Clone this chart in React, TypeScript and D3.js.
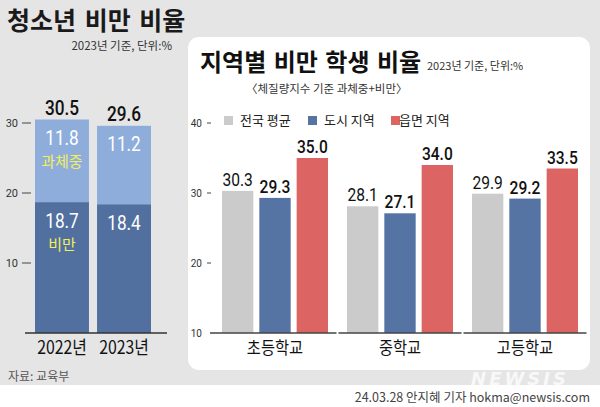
import React from "react";
import * as d3 from "d3";

const width = 600;
const height = 407;

// 왼쪽 차트: 청소년 비만 비율 (2023년 기준, 단위:%)
const years = ["2022년", "2023년"];
const obese = [18.7, 18.4];
const overweight = [11.8, 11.2];
const totals = [30.5, 29.6];
const leftTicks = [10, 20, 30];

// 오른쪽 차트: 지역별 비만 학생 비율
const schools = ["초등학교", "중학교", "고등학교"];
const regions = ["전국 평균", "도시 지역", "읍면 지역"];
const nationAvg = [30.3, 28.1, 29.9];
const cityRate = [29.3, 27.1, 29.2];
const ruralRate = [35.0, 34.0, 33.5];
const rightTicks = [10, 20, 30, 40];

const regionColors = ["#cbcbcb", "#5674a3", "#dc6462"];
const darkBlue = "#52709f";
const lightBlue = "#8eaddb";
const yellow = "#f3ef5c";

const KR = "'Noto Sans CJK KR', sans-serif";
const NUM = "'Roboto', 'Noto Sans CJK KR', sans-serif";

// narrow text (the reference uses a condensed gothic)
function Narrow({ x, y, size, weight = 400, fill = "#111", family = NUM, squeeze = 0.82, children }: any) {
  return (
    <text
      transform={`translate(${x},${y}) scale(${squeeze},1)`}
      textAnchor="middle"
      fontFamily={family}
      fontWeight={weight}
      fontSize={size}
      fill={fill}
    >
      {children}
    </text>
  );
}

export default function App() {
  // left chart scales
  const leftX = d3.scaleBand().domain(years).range([35, 151]).paddingInner(0.13);
  const leftY = d3.scaleLinear().domain([0, 30]).range([333, 123]);

  const leftRows = years.map((y, i) => ({ year: y, obese: obese[i], overweight: overweight[i] }));
  const stacked = d3.stack<any>().keys(["obese", "overweight"])(leftRows);
  const stackColors = [darkBlue, lightBlue];

  // right chart scales
  const groupX = d3.scaleBand().domain(schools).range([212.5, 587.5]);
  const barX = d3.scaleBand().domain(regions).range([9.5, 115.5]).paddingInner(0.16);
  const rightY = d3.scaleLinear().domain([10, 40]).range([333, 123]);
  const seriesValues = [nationAvg, cityRate, ruralRate];

  const legendX = [224, 308, 391];

  return (
    <svg
      width={width}
      height={height}
      style={{ position: "absolute", left: 0, top: 0, display: "block" }}
    >
      <rect x={0} y={0} width={width} height={height} fill="#ffffff" />
      <rect x={0} y={0} width={width} height={385} fill="#e5e5e5" />

      {/* 왼쪽 제목 */}
      <text x={7} y={30} fontFamily={KR} fontWeight={700} fontSize={25} fill="#1a1a1a" wordSpacing={3}>
        청소년 비만 비율
      </text>
      <text x={172} y={50} textAnchor="end" fontFamily={KR} fontSize={11.5} fill="#333">
        2023년 기준, 단위:%
      </text>

      {/* 왼쪽 눈금 */}
      {leftTicks.map((t) => (
        <g key={t} transform={`translate(0,${leftY(t)})`}>
          <text x={18} y={4} textAnchor="end" fontFamily={NUM} fontSize={11} fill="#333">
            {t}
          </text>
          <line x1={22} x2={31} stroke="#444" strokeWidth={1} />
        </g>
      ))}

      {/* 누적 막대 */}
      {stacked.map((layer, li) =>
        layer.map((d, i) => (
          <rect
            key={`${li}-${i}`}
            x={leftX(years[i])}
            y={leftY(d[1])}
            width={leftX.bandwidth()}
            height={leftY(d[0]) - leftY(d[1])}
            fill={stackColors[li]}
          />
        ))
      )}
      <line x1={25} x2={167} y1={leftY(0)} y2={leftY(0)} stroke="#333" strokeWidth={1.5} />

      {years.map((y, i) => {
        const cx = (leftX(y) as number) + leftX.bandwidth() / 2;
        const topY = leftY(totals[i]);
        const midY = leftY(obese[i]);
        return (
          <g key={y}>
            <Narrow x={cx} y={topY - 5} size={21} weight={500}>
              {totals[i].toFixed(1)}
            </Narrow>
            <Narrow x={cx} y={topY + 25} size={21} fill="#fff">
              {overweight[i].toFixed(1)}
            </Narrow>
            <Narrow x={cx} y={midY + 26} size={21} fill="#fff">
              {obese[i].toFixed(1)}
            </Narrow>
            {i === 0 && (
              <>
                <text x={cx} y={topY + 47} textAnchor="middle" fontFamily={KR} fontSize={15} fill={yellow}>
                  과체중
                </text>
                <text x={cx} y={midY + 48} textAnchor="middle" fontFamily={KR} fontSize={15} fill={yellow}>
                  비만
                </text>
              </>
            )}
            <Narrow x={cx} y={354} size={18} squeeze={0.88} family={KR}>
              {y}
            </Narrow>
          </g>
        );
      })}

      <text x={8} y={381} fontFamily={KR} fontSize={12} fill="#555">
        자료: 교육부
      </text>

      {/* 오른쪽 패널 */}
      <rect x={188} y={37} width={402} height={333} rx={11} fill="#ffffff" />
      <text x={200} y={71} fontFamily={KR} fontWeight={700} fontSize={24} fill="#111" wordSpacing={2}>
        지역별 비만 학생 비율
      </text>
      <text x={427} y={70} fontFamily={KR} fontSize={11} fill="#333">
        2023년 기준, 단위:%
      </text>
      <text x={246} y={93} fontFamily={KR} fontSize={11.5} fill="#333">
        〈체질량지수 기준 과체중+비만〉
      </text>

      {/* 범례 */}
      {regions.map((r, i) => (
        <g key={r}>
          <rect x={legendX[i]} y={116} width={9} height={9} fill={regionColors[i]} />
          <text x={legendX[i] + (i === 2 ? 8 : 16)} y={125} fontFamily={KR} fontSize={13} fill="#222">
            {r}
          </text>
        </g>
      ))}

      {/* 오른쪽 눈금 */}
      {rightTicks.map((t) => (
        <g key={t} transform={`translate(0,${rightY(t)})`}>
          <text x={202} y={4} textAnchor="end" fontFamily={NUM} fontSize={10} fill="#333">
            {t}
          </text>
          {t !== 10 && <line x1={207} x2={211} stroke="#444" strokeWidth={1} />}
        </g>
      ))}

      {/* 그룹 막대 */}
      {schools.map((s, gi) => {
        const gx = groupX(s) as number;
        return (
          <g key={s} transform={`translate(${gx},0)`}>
            {regions.map((r, ri) => {
              const v = seriesValues[ri][gi];
              const bx = barX(r) as number;
              return (
                <g key={r}>
                  <rect
                    x={bx}
                    y={rightY(v)}
                    width={barX.bandwidth()}
                    height={rightY(10) - rightY(v)}
                    fill={regionColors[ri]}
                  />
                  <Narrow
                    x={bx + barX.bandwidth() / 2}
                    y={rightY(v) - 5}
                    size={19}
                    weight={ri === 0 ? 400 : 500}
                  >
                    {v.toFixed(1)}
                  </Narrow>
                </g>
              );
            })}
            <line
              x1={gi === 0 ? -2.5 : 1}
              x2={groupX.bandwidth() - 1}
              y1={rightY(10)}
              y2={rightY(10)}
              stroke="#444"
              strokeWidth={1.5}
            />
            <Narrow x={groupX.bandwidth() / 2} y={354} size={17} squeeze={0.9} family={KR}>
              {s}
            </Narrow>
          </g>
        );
      })}

      {/* 워터마크 */}
      <text
        x={520}
        y={385}
        textAnchor="middle"
        fontFamily="'DejaVu Sans', sans-serif"
        fontStyle="italic"
        fontWeight={700}
        fontSize={18}
        fill="#ffffff"
        opacity={0.75}
        letterSpacing={3}
      >
        NEWSIS
      </text>

      <text x={590} y={402} textAnchor="end" fontFamily={KR} fontSize={12.5} fill="#444">
        24.03.28 안지혜 기자 hokma@newsis.com
      </text>
    </svg>
  );
}
